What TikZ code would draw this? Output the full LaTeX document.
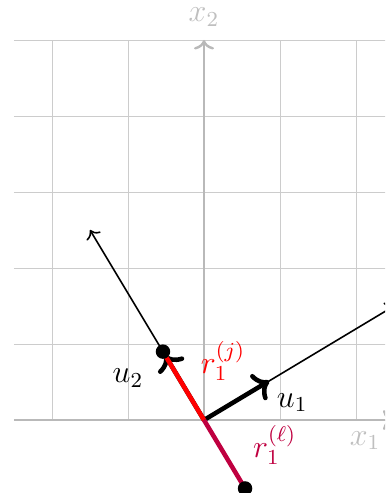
\documentclass[tikz,border=0pt]{standalone}
\usetikzlibrary{arrows.meta}
\begin{document}
\begin{tikzpicture}[
  gridline/.style={gray!40, line width=0.35pt},
  axisline/.style={gray!55, line width=0.9pt, ->},
  axislabel/.style={text=gray!50, font=\large},
  thinvec/.style={black, semithick, ->},
  unitvec/.style={black, line width=1.7pt, ->},
  rline/.style={line width=1.7pt},
  dotstyle/.style={fill=black, circle, inner sep=0pt, minimum size=0.19cm},
  lab/.style={font=\large}
]
\useasboundingbox (-2.684,-0.96) rectangle (2.382,5.526);
\clip (-2.684,-0.96) rectangle (2.382,5.526);
\draw[gridline, step=1] (-2.5,0) grid (2.5,5);
\coordinate (O) at (0,0);
\coordinate (X1end) at (2.48,0);
\coordinate (X2end) at (0,5);
\draw[axisline] (-2.5,0) -- (X1end);
\draw[axisline] (0,0) -- (X2end);
\node[axislabel] (x2lab) at (0,5.3) {$x_2$};
\node[axislabel] (x1lab) at (2.12,-0.27) {$x_1$};
\coordinate (A1) at (2.5,1.5);
\coordinate (A2) at (-1.5,2.5);
\coordinate (U1) at (0.857,0.514);
\coordinate (U2) at (-0.514,0.857);
\coordinate (Rj) at (-0.54,0.9);
\coordinate (Rl) at (0.54,-0.9);
\draw[thinvec] (O) -- (A1);
\draw[thinvec] (O) -- (A2);
\draw[unitvec] (O) -- (U1);
\draw[unitvec] (O) -- (U2);
\draw[rline, red] (O) -- (Rj);
\draw[rline, purple] (O) -- (Rl);
\node[dotstyle] (dj) at (Rj) {};
\node[dotstyle] (dl) at (Rl) {};
\node[lab] (u1lab) at (1.16,0.23) {$u_1$};
\node[lab] (u2lab) at (-1.0,0.55) {$u_2$};
\node[lab, text=red] (rjlab) at (0.25,0.78) {$r_1^{(j)}$};
\node[lab, text=purple] (rllab) at (0.93,-0.33) {$r_1^{(\ell)}$};
\end{tikzpicture}
\end{document}
